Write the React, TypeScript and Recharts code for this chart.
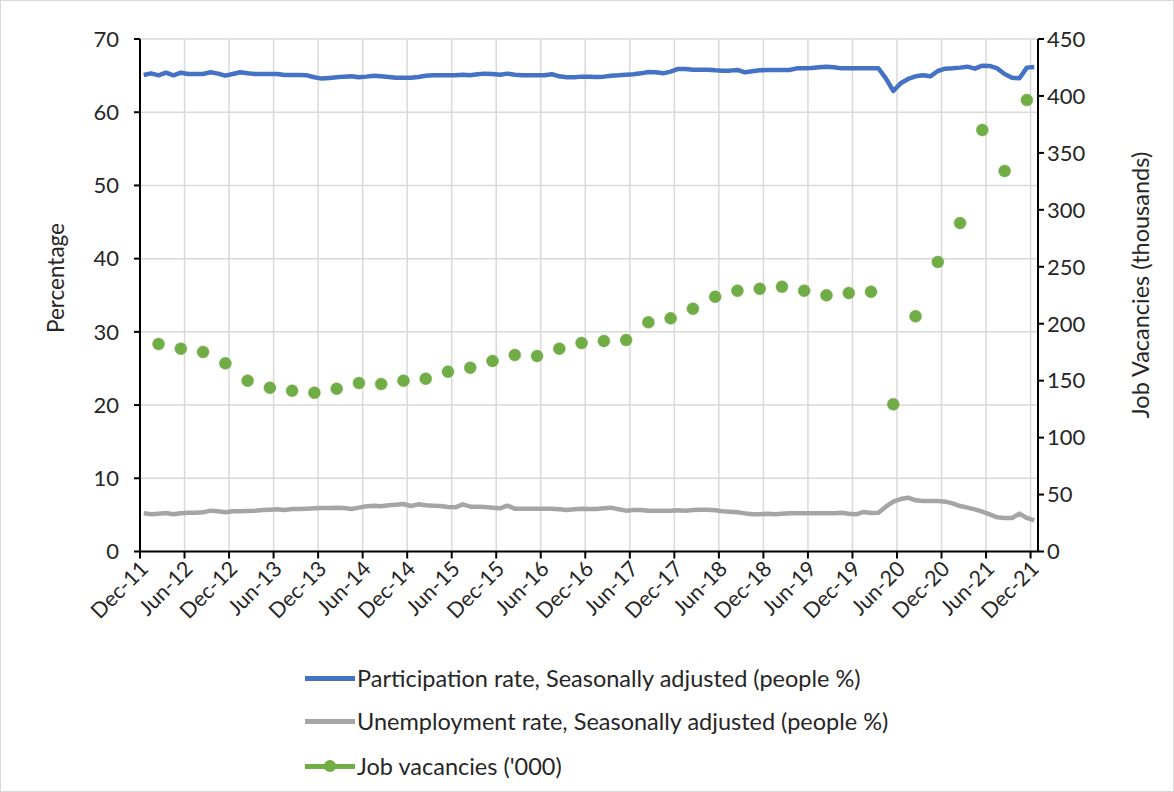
import { ComposedChart, Line, XAxis, YAxis, CartesianGrid } from 'recharts';

// month index 0 = Dec-11, observations plotted mid-month
const tickMonths = [0, 6, 12, 18, 24, 30, 36, 42, 48, 54, 60, 66, 72, 78, 84, 90, 96, 102, 108, 114, 120];
const tickLabels = [
  'Dec-11', 'Jun-12', 'Dec-12', 'Jun-13', 'Dec-13', 'Jun-14', 'Dec-14', 'Jun-15', 'Dec-15', 'Jun-16', 'Dec-16',
  'Jun-17', 'Dec-17', 'Jun-18', 'Dec-18', 'Jun-19', 'Dec-19', 'Jun-20', 'Dec-20', 'Jun-21', 'Dec-21',
];
const leftTicks = [0, 10, 20, 30, 40, 50, 60, 70];
const rightTicks = [0, 50, 100, 150, 200, 250, 300, 350, 400, 450];

// Participation rate, Seasonally adjusted (people %) - monthly Dec-11 .. Dec-21
const participation = [
  65.09, 65.31, 65.04, 65.4, 65.04, 65.4, 65.22, 65.22, 65.22, 65.45, 65.27, 64.99, 65.22, 65.45, 65.31,
  65.22, 65.22, 65.22, 65.22, 65.09, 65.09, 65.09, 65.04, 64.77, 64.59, 64.68, 64.77, 64.86, 64.9, 64.77,
  64.86, 64.99, 64.9, 64.81, 64.72, 64.72, 64.72, 64.81, 64.99, 65.04, 65.04, 65.04, 65.04, 65.13, 65.04,
  65.18, 65.27, 65.22, 65.13, 65.27, 65.13, 65.04, 65.04, 65.04, 65.04, 65.18, 64.9, 64.77, 64.77, 64.86,
  64.86, 64.81, 64.86, 64.99, 65.04, 65.13, 65.18, 65.31, 65.5, 65.45, 65.31, 65.54, 65.91, 65.91, 65.81,
  65.81, 65.81, 65.72, 65.68, 65.68, 65.77, 65.45, 65.59, 65.72, 65.77, 65.77, 65.77, 65.77, 65.99, 65.99,
  66.04, 66.13, 66.22, 66.13, 65.99, 65.99, 65.99, 65.99, 65.99, 65.99, 64.63, 62.9, 63.95, 64.54, 64.9,
  65.04, 64.9, 65.63, 65.95, 65.99, 66.09, 66.22, 65.95, 66.36, 66.32, 65.99, 65.22, 64.72, 64.63, 66.09, 66.18,
];

// Unemployment rate, Seasonally adjusted (people %) - monthly
const unemployment = [
  5.21, 5.08, 5.17, 5.26, 5.08, 5.21, 5.3, 5.3, 5.35, 5.58, 5.49, 5.35, 5.49, 5.49, 5.53,
  5.58, 5.67, 5.71, 5.76, 5.67, 5.8, 5.8, 5.85, 5.9, 5.94, 5.94, 5.99, 5.94, 5.8, 5.99,
  6.17, 6.26, 6.17, 6.31, 6.4, 6.49, 6.21, 6.44, 6.31, 6.26, 6.21, 6.08, 6.03, 6.44, 6.12,
  6.12, 6.08, 5.99, 5.9, 6.26, 5.85, 5.85, 5.85, 5.85, 5.85, 5.85, 5.76, 5.67, 5.76, 5.85,
  5.8, 5.8, 5.9, 5.99, 5.76, 5.58, 5.67, 5.67, 5.58, 5.58, 5.58, 5.58, 5.62, 5.58, 5.67,
  5.71, 5.71, 5.62, 5.49, 5.44, 5.35, 5.21, 5.08, 5.08, 5.17, 5.08, 5.17, 5.21, 5.21, 5.21,
  5.21, 5.21, 5.21, 5.21, 5.3, 5.17, 5.08, 5.4, 5.26, 5.3, 6.12, 6.81, 7.17, 7.35, 6.99,
  6.9, 6.9, 6.9, 6.81, 6.58, 6.21, 5.99, 5.76, 5.44, 5.08, 4.67, 4.58, 4.58, 5.17, 4.58, 4.26,
];

// Job vacancies ('000) - quarterly, Feb-12 .. Nov-21
const vacancies = [
  182.2, 178.1, 175.2, 165.2, 150.0, 143.8, 141.2, 139.4, 142.9, 147.9, 147.1, 150.0, 151.7, 157.9,
  161.4, 167.3, 172.5, 171.6, 178.1, 183.1, 184.8, 185.7, 201.2, 204.7, 213.2, 223.7, 229.0, 230.7,
  232.5, 229.0, 224.9, 227.0, 228.1, 129.2, 206.5, 254.2, 288.4, 370.1, 334.1, 396.4,
];
const VAC_FIRST_MONTH = 2; // Feb-12
const VAC_STEP = 3;

const data = participation.map((p, m) => {
  const k = (m - VAC_FIRST_MONTH) / VAC_STEP;
  const hasVac = Number.isInteger(k) && k >= 0 && k < vacancies.length;
  return {
    x: m + 0.5,
    participation: p,
    unemployment: unemployment[m],
    vacancies: hasVac ? vacancies[k] : null,
  };
});

const FONT = 'Lato, "Noto Sans", sans-serif';
const TEXT = '#262626';

const XTick = (props: any) => {
  const { x, y, payload } = props;
  const label = tickLabels[tickMonths.indexOf(payload.value)];
  const ax = x + 4;
  return (
    <text
      x={ax}
      y={y}
      textAnchor="end"
      dominantBaseline="central"
      transform={`rotate(-45 ${ax} ${y})`}
      fontSize={21.5}
      fontFamily={FONT}
      fill={TEXT}
    >
      {label}
    </text>
  );
};

const legendItems = [
  { label: 'Participation rate, Seasonally adjusted (people %)', color: '#4472C4', dot: false, y: 678 },
  { label: 'Unemployment rate, Seasonally adjusted (people %)', color: '#A5A5A5', dot: false, y: 721 },
  { label: "Job vacancies ('000)", color: '#70AD47', dot: true, y: 766 },
];

export default function App() {
  return (
    <div style={{ position: 'absolute', left: 0, top: 0, width: 1174, height: 792, background: '#fff' }}>
      <ComposedChart
        width={1174}
        height={792}
        data={data}
        margin={{ top: 39, right: 6, bottom: 150.5, left: 20 }}
      >
        <CartesianGrid yAxisId="left" stroke="#D9D9D9" strokeWidth={1.5} />
        <XAxis
          dataKey="x"
          type="number"
          domain={[0, 121]}
          ticks={tickMonths}
          interval={0}
          height={90}
          stroke="#000"
          strokeWidth={2}
          tickSize={7}
          tickMargin={6}
          tick={<XTick />}
          allowDataOverflow
        />
        <YAxis
          yAxisId="left"
          domain={[0, 70]}
          ticks={leftTicks}
          width={120}
          stroke="#000"
          strokeWidth={2}
          tickSize={6}
          tickMargin={15}
          tick={{ fontSize: 22, fontFamily: FONT, fill: TEXT }}
          label={{
            content: () => (
              <text
                x={55}
                y={278}
                transform="rotate(-90 55 278)"
                textAnchor="middle"
                dominantBaseline="central"
                fontSize={22.5}
                fontFamily={FONT}
                fill={TEXT}
              >
                Percentage
              </text>
            ),
          }}
        />
        <YAxis
          yAxisId="right"
          orientation="right"
          domain={[0, 450]}
          ticks={rightTicks}
          width={130}
          stroke="#000"
          strokeWidth={2}
          tickSize={6}
          tickMargin={3}
          tick={{ fontSize: 22, fontFamily: FONT, fill: TEXT, textAnchor: 'start' }}
          label={{
            content: () => (
              <text
                x={1140}
                y={285}
                transform="rotate(-90 1140 285)"
                textAnchor="middle"
                dominantBaseline="central"
                fontSize={23.5}
                fontFamily={FONT}
                fill={TEXT}
              >
                Job Vacancies (thousands)
              </text>
            ),
          }}
        />
        <Line
          yAxisId="left"
          dataKey="unemployment"
          stroke="#A5A5A5"
          strokeWidth={4.5}
          strokeLinejoin="round"
          dot={false}
          isAnimationActive={false}
        />
        <Line
          yAxisId="left"
          dataKey="participation"
          stroke="#4472C4"
          strokeWidth={4.5}
          strokeLinejoin="round"
          dot={false}
          isAnimationActive={false}
        />
        <Line
          yAxisId="right"
          dataKey="vacancies"
          stroke="none"
          strokeWidth={0}
          dot={{ r: 6, fill: '#70AD47', stroke: '#70AD47', strokeWidth: 0.5 }}
          isAnimationActive={false}
        />
      </ComposedChart>

      {legendItems.map((it) => (
        <div
          key={it.label}
          style={{
            position: 'absolute',
            left: 305,
            top: it.y - 15,
            height: 30,
            display: 'flex',
            alignItems: 'center',
            fontFamily: FONT,
            fontSize: 23.5,
            color: TEXT,
            whiteSpace: 'nowrap',
          }}
        >
          <div style={{ position: 'relative', width: 50, height: 30, marginRight: 2 }}>
            <div
              style={{
                position: 'absolute',
                left: 0,
                top: 13,
                width: 50,
                height: 4.5,
                background: it.color,
              }}
            />
            {it.dot && (
              <div
                style={{
                  position: 'absolute',
                  left: 19,
                  top: 9,
                  width: 12,
                  height: 12,
                  borderRadius: 6,
                  background: it.color,
                }}
              />
            )}
          </div>
          <span>{it.label}</span>
        </div>
      ))}

      <div
        style={{
          position: 'absolute',
          left: 0,
          top: 0,
          width: 1174,
          height: 792,
          boxSizing: 'border-box',
          border: '1px solid #D9D9D9',
          pointerEvents: 'none',
        }}
      />
    </div>
  );
}
